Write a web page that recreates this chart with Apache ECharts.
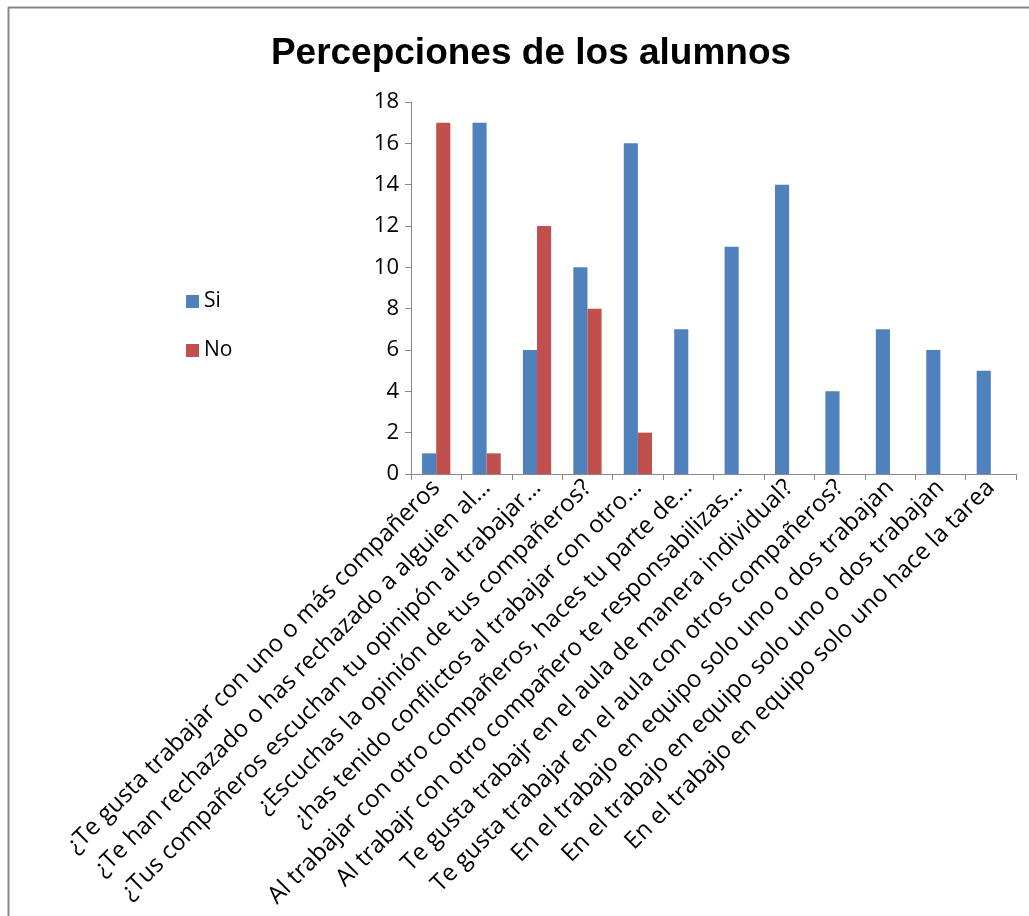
<!DOCTYPE html>
<html>
<head>
<meta charset="utf-8">
<script src="https://cdn.jsdelivr.net/npm/echarts@6/dist/echarts.min.js"></script>
<style>html,body{margin:0;padding:0;background:#fff}#c{width:1029px;height:916px}</style>
</head>
<body>
<div id="c"></div>
<script>
const categories = [
  "¿Te gusta trabajar con uno o más compañeros",
  "¿Te han rechazado o has rechazado a alguien al…",
  "¿Tus compañeros escuchan tu opinipón al trabajar…",
  "¿Escuchas la opinión de tus compañeros?",
  "¿has tenido conflictos al trabajar con otro…",
  "Al trabajar con otro compañeros, haces tu parte de…",
  "Al trabajr con otro compañero te responsabilizas…",
  "Te gusta trabajr en el aula de manera individual?",
  "Te gusta trabajar en el aula con otros compañeros?",
  "En el trabajo en equipo solo uno o dos trabajan",
  "En el trabajo en equipo solo uno o dos trabajan",
  "En el trabajo en equipo solo uno hace la tarea"
];
const siValues = [1, 17, 6, 10, 16, 7, 11, 14, 4, 7, 6, 5];
const noValues = [17, 1, 12, 8, 2, null, null, null, null, null, null, null];
const yTicks = [0, 18, 2];

const chart = echarts.init(document.getElementById('c'), null, {renderer: 'canvas'});
const font = '"Open Sans", "Liberation Sans", sans-serif';
chart.setOption({
  backgroundColor: '#fff',
  animation: false,
  title: {
    text: 'Percepciones de los alumnos',
    left: 526, top: 30, textAlign: 'center',
    textStyle: {fontFamily: 'Liberation Sans, Arial, sans-serif', fontWeight: 'bold', fontSize: 37, color: '#000'}
  },
  legend: {
    orient: 'vertical', left: 181, top: 286, itemGap: 28,
    itemWidth: 13, itemHeight: 13, icon: 'rect',
    textStyle: {fontFamily: font, fontSize: 21, color: '#000'},
    data: ['Si', 'No']
  },
  graphic: [
    {type: 'line', shape: {x1: 8, y1: 7.5, x2: 1029, y2: 7.5}, style: {stroke: '#888', lineWidth: 2}},
    {type: 'line', shape: {x1: 8.5, y1: 7, x2: 8.5, y2: 916}, style: {stroke: '#888', lineWidth: 2}}
  ],
  grid: {left: 411, right: 13, top: 102, bottom: 442, containLabel: false},
  xAxis: {
    type: 'category', data: categories,
    axisLine: {lineStyle: {color: '#888', width: 1}},
    axisTick: {show: true, alignWithLabel: false, length: 6, lineStyle: {color: '#888'}},
    axisLabel: {rotate: 45, interval: 0, fontFamily: font, fontSize: 24, color: '#000', margin: 10}
  },
  yAxis: {
    type: 'value', min: yTicks[0], max: yTicks[1], interval: yTicks[2],
    splitLine: {show: false},
    axisLine: {show: true, lineStyle: {color: '#888'}},
    axisTick: {show: true, length: 6, lineStyle: {color: '#888'}},
    axisLabel: {fontFamily: font, fontSize: 22, color: '#000', margin: 12}
  },
  series: [
    {name: 'Si', type: 'bar', data: siValues, itemStyle: {color: '#4F81BD'}, barGap: '0%', barCategoryGap: '44%'},
    {name: 'No', type: 'bar', data: noValues, itemStyle: {color: '#C0504D'}, barGap: '0%', barCategoryGap: '44%'}
  ]
});
</script>
</body>
</html>
